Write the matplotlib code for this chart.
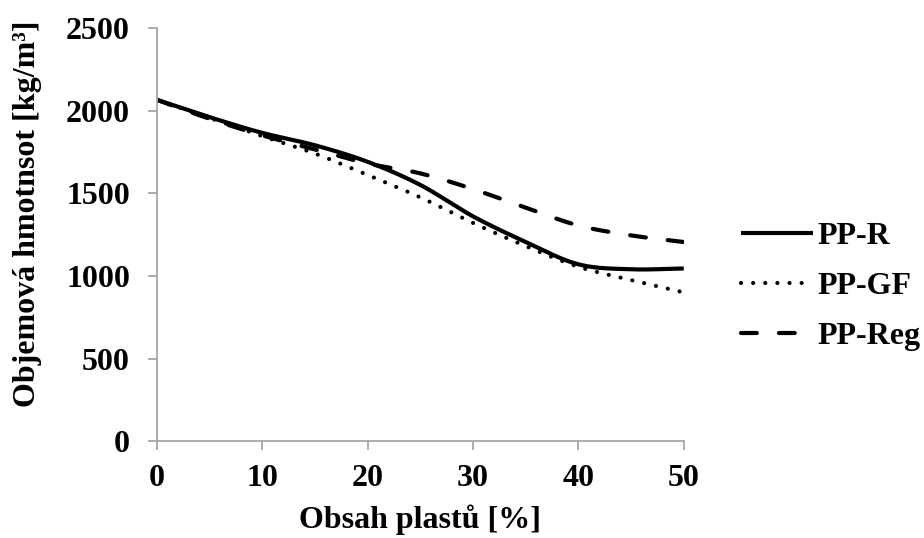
import numpy as np
import matplotlib
matplotlib.use("Agg")
import matplotlib.pyplot as plt
from matplotlib.lines import Line2D

# Plastic content [%] and bulk density [kg/m3] for each mixture
plastic_content = [0, 5, 10, 15, 20, 25, 30, 35, 40, 45, 50]
pp_r = [2065, 1960, 1865, 1790, 1690, 1550, 1360, 1205, 1070, 1040, 1045]
pp_gf = [2065, 1955, 1845, 1740, 1610, 1475, 1320, 1180, 1055, 975, 900]
pp_reg = [2065, 1950, 1850, 1765, 1680, 1620, 1525, 1412, 1305, 1245, 1205]

series_names = ["PP-R", "PP-GF", "PP-Reg"]
x_ticks = [0, 10, 20, 30, 40, 50]
y_ticks = [0, 500, 1000, 1500, 2000, 2500]


def smooth(x, y, n=40):
    """Catmull-Rom spline through the points (Excel-style smoothed line)."""
    p = np.column_stack([x, y]).astype(float)
    p = np.vstack([2 * p[0] - p[1], p, 2 * p[-1] - p[-2]])
    out = []
    t = np.linspace(0, 1, n, endpoint=False)[:, None]
    for i in range(1, len(p) - 2):
        p0, p1, p2, p3 = p[i - 1], p[i], p[i + 1], p[i + 2]
        seg = 0.5 * ((2 * p1) + (-p0 + p2) * t
                     + (2 * p0 - 5 * p1 + 4 * p2 - p3) * t ** 2
                     + (-p0 + 3 * p1 - 3 * p2 + p3) * t ** 3)
        out.append(seg)
    out.append(p[-2][None, :])
    out = np.vstack(out)
    return out[:, 0], out[:, 1]


plt.rcParams["font.family"] = ["Liberation Serif", "DejaVu Serif"]
plt.rcParams["font.weight"] = "bold"

FS = 23

fig = plt.figure(figsize=(9.24, 5.38), dpi=100)
ax = fig.add_axes([0.170, 0.180, 0.570, 0.768])

styles = [
    dict(linestyle="-", linewidth=3.0, solid_capstyle="butt"),
    dict(linestyle=(0, (0.01, 2.9)), linewidth=3.0, dash_capstyle="round"),
    dict(linestyle=(0, (3.8, 5.3)), linewidth=3.0, dash_capstyle="round"),
]

for vals, st in zip([pp_r, pp_gf, pp_reg], styles):
    xs, ys = smooth(plastic_content, vals)
    ax.plot(xs, ys, color="black", **st)

ax.set_xlim(0, 50)
ax.set_ylim(0, 2500)
ax.set_xticks(x_ticks)
ax.set_yticks(y_ticks)

grey = "#a6a6a6"
for side in ["top", "right"]:
    ax.spines[side].set_visible(False)
for side in ["left", "bottom"]:
    ax.spines[side].set_color(grey)
    ax.spines[side].set_linewidth(1.3)
ax.tick_params(axis="both", direction="out", length=6.5, width=1.3, color=grey,
               labelsize=FS)
ax.tick_params(axis="y", pad=13)
ax.tick_params(axis="x", pad=10)
for lbl in ax.get_xticklabels() + ax.get_yticklabels():
    lbl.set_fontweight("bold")

ax.set_xlabel("Obsah plastů [%]", fontsize=FS, fontweight="bold")
ax.set_ylabel("Objemová hmotnsot [kg/m³]", fontsize=FS, fontweight="bold")
ax.xaxis.set_label_coords(0.5, -0.154)
ax.yaxis.set_label_coords(-0.218, 0.55)

handles = [Line2D([0], [0], color="black", **st) for st in styles]
fig.legend(handles, series_names, loc="center left",
           bbox_to_anchor=(0.802, 0.468), frameon=False,
           handlelength=2.26, handletextpad=0.13, labelspacing=0.64,
           borderpad=0, borderaxespad=0,
           prop={"weight": "bold", "size": FS})

fig.savefig("out.png", dpi=100)
